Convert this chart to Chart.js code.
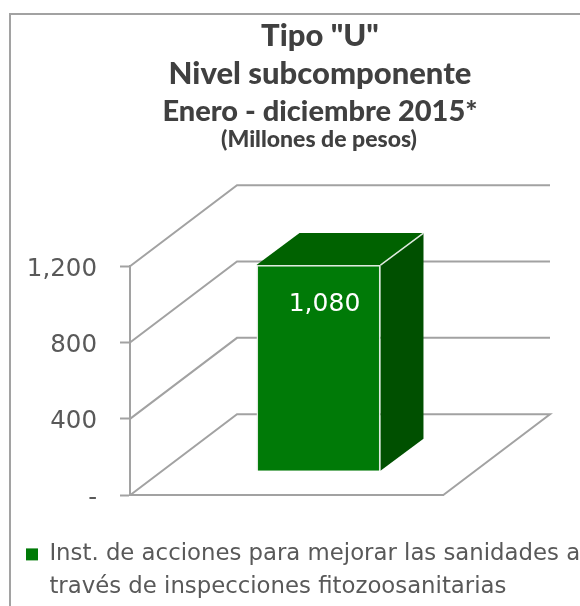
<!DOCTYPE html>
<html><head><meta charset="utf-8">
<style>html,body{margin:0;padding:0;background:#fff}#w{position:relative;width:580px;height:606px}canvas{display:block}</style>
<script src="https://cdn.jsdelivr.net/npm/chart.js@4"></script>
</head><body><div id="w"><canvas id="c" width="580" height="606"></canvas></div>
<script>
const categories = ['Inst. de acciones para mejorar las sanidades a través de inspecciones fitozoosanitarias'];
const legendLines = ['Inst. de acciones para mejorar las sanidades a', 'través de inspecciones fitozoosanitarias'];
const values = [1080];
const yTicks = [0, 400, 800, 1200];
const titleLines = ['Tipo "U"', 'Nivel subcomponente'];
const subtitleLine = 'Enero - diciembre 2015*';
const unitsLine = '(Millones de pesos)';

const BODY = '"DejaVu Sans", sans-serif', HEAD = 'Lato, sans-serif';
const GREY = '#a2a2a2', TXT = '#595959', HEADC = '#404040';
const WALL = {dx:107, dy:-81};          // depth of the 3-D box
const BAR_SHIFT = {dx:32, dy:-24};      // bar stands inside the box
const BAR_SIDE = {dx:43, dy:-32};       // bar's own depth

const scene3d = {
  id:'scene3d',
  afterLayout(chart){
    for (const b of chart.boxes){
      if (b.position==='top' && b.options && b.options.text!==undefined){ b.left=60; b.right=580; }
      if (b===chart.legend){ b.left=16; b.right=580; b.top=533; b.bottom=606; }
    }
  },
  beforeDraw(chart){
    const c=chart.ctx; c.save();
    c.strokeStyle=GREY; c.lineWidth=2;
    c.beginPath(); c.moveTo(10,606); c.lineTo(10,14); c.lineTo(580,14); c.stroke();
    c.restore();
  },
  beforeDatasetsDraw(chart){
    const c=chart.ctx, {left,right,bottom}=chart.chartArea, y=chart.scales.y;
    c.save(); c.strokeStyle=GREY; c.lineWidth=2; c.lineJoin='miter';
    for(const t of yTicks){
      const p=y.getPixelForValue(t);
      c.beginPath(); c.moveTo(left,p); c.lineTo(left+WALL.dx,p+WALL.dy); c.lineTo(right+WALL.dx,p+WALL.dy);
      if(t===0){ c.lineTo(right,p); }
      c.stroke();
    }
    c.restore();
    const el=chart.getDatasetMeta(0).data[0];
    const l=el.x-el.width/2+BAR_SHIFT.dx, r=el.x+el.width/2+BAR_SHIFT.dx, t=el.y+BAR_SHIFT.dy, b=el.base+BAR_SHIFT.dy;
    c.save(); c.strokeStyle='#dfeadf'; c.lineWidth=1.5;
    c.fillStyle='#006200';
    c.beginPath(); c.moveTo(l,t); c.lineTo(l+BAR_SIDE.dx,t+BAR_SIDE.dy); c.lineTo(r+BAR_SIDE.dx,t+BAR_SIDE.dy); c.lineTo(r,t); c.closePath(); c.fill();
    c.fillStyle='#005000';
    c.beginPath(); c.moveTo(r,t); c.lineTo(r+BAR_SIDE.dx,t+BAR_SIDE.dy); c.lineTo(r+BAR_SIDE.dx,b+BAR_SIDE.dy); c.lineTo(r,b); c.closePath(); c.fill();
    c.beginPath(); c.moveTo(r,t); c.lineTo(r+BAR_SIDE.dx,t+BAR_SIDE.dy); c.stroke();
    c.restore();
    c.save(); c.translate(BAR_SHIFT.dx,BAR_SHIFT.dy);
  },
  afterDatasetsDraw(chart){
    const c=chart.ctx; c.restore();
    const el=chart.getDatasetMeta(0).data[0];
    c.save(); c.fillStyle='#fff'; c.font='25px '+BODY; c.textAlign='center'; c.textBaseline='middle';
    c.fillText(values[0].toLocaleString('en-US'), el.x+BAR_SHIFT.dx+6, el.y+BAR_SHIFT.dy+39);
    c.restore();
  },
  afterDraw(chart){
    const c=chart.ctx; c.save(); c.fillStyle=HEADC; c.font='900 23px '+HEAD; c.textAlign='center'; c.textBaseline='middle';
    c.fillText(unitsLine,319,139.5); c.restore();
  }
};

new Chart(document.getElementById('c'),{
  type:'bar',
  data:{labels:categories,datasets:[{label:categories[0],data:values,backgroundColor:'#007a07',borderColor:'#dfeadf',borderWidth:1.5,barPercentage:0.396,categoryPercentage:1,clip:false}]},
  options:{
    responsive:false,animation:false,
    layout:{padding:{left:0,right:137,top:0,bottom:60}},
    plugins:{
      title:{display:true,text:titleLines,color:HEADC,font:{family:HEAD,size:31,weight:'900',lineHeight:1.23},padding:{top:17,bottom:0}},
      subtitle:{display:true,text:subtitleLine,color:HEADC,font:{family:HEAD,size:29,weight:'900',lineHeight:1.24},padding:{top:0,bottom:137}},
      legend:{display:true,position:'bottom',align:'start',labels:{boxWidth:12,boxHeight:12,padding:10,color:TXT,font:{family:BODY,size:22.8,lineHeight:1.45},
        generateLabels:()=>[{text:legendLines,fillStyle:'#007a07',strokeStyle:'#007a07',fontColor:TXT,lineWidth:0,datasetIndex:0}]}},
      tooltip:{enabled:false}
    },
    scales:{
      x:{grid:{display:false},border:{display:true,color:GREY,width:2},ticks:{display:false}},
      y:{min:0,max:1200,afterFit(s){s.width=130;},
        afterBuildTicks(s){s.ticks=yTicks.map(v=>({value:v}));},
        grid:{drawOnChartArea:false,drawTicks:true,tickLength:10,tickColor:GREY,tickWidth:2},
        border:{display:true,color:GREY,width:2},
        ticks:{padding:23,labelOffset:3,color:TXT,font:{family:BODY,size:24.5},callback:v=>v===0?'-':v.toLocaleString('en-US')}}
    }
  },
  plugins:[scene3d]
});
</script></body></html>
